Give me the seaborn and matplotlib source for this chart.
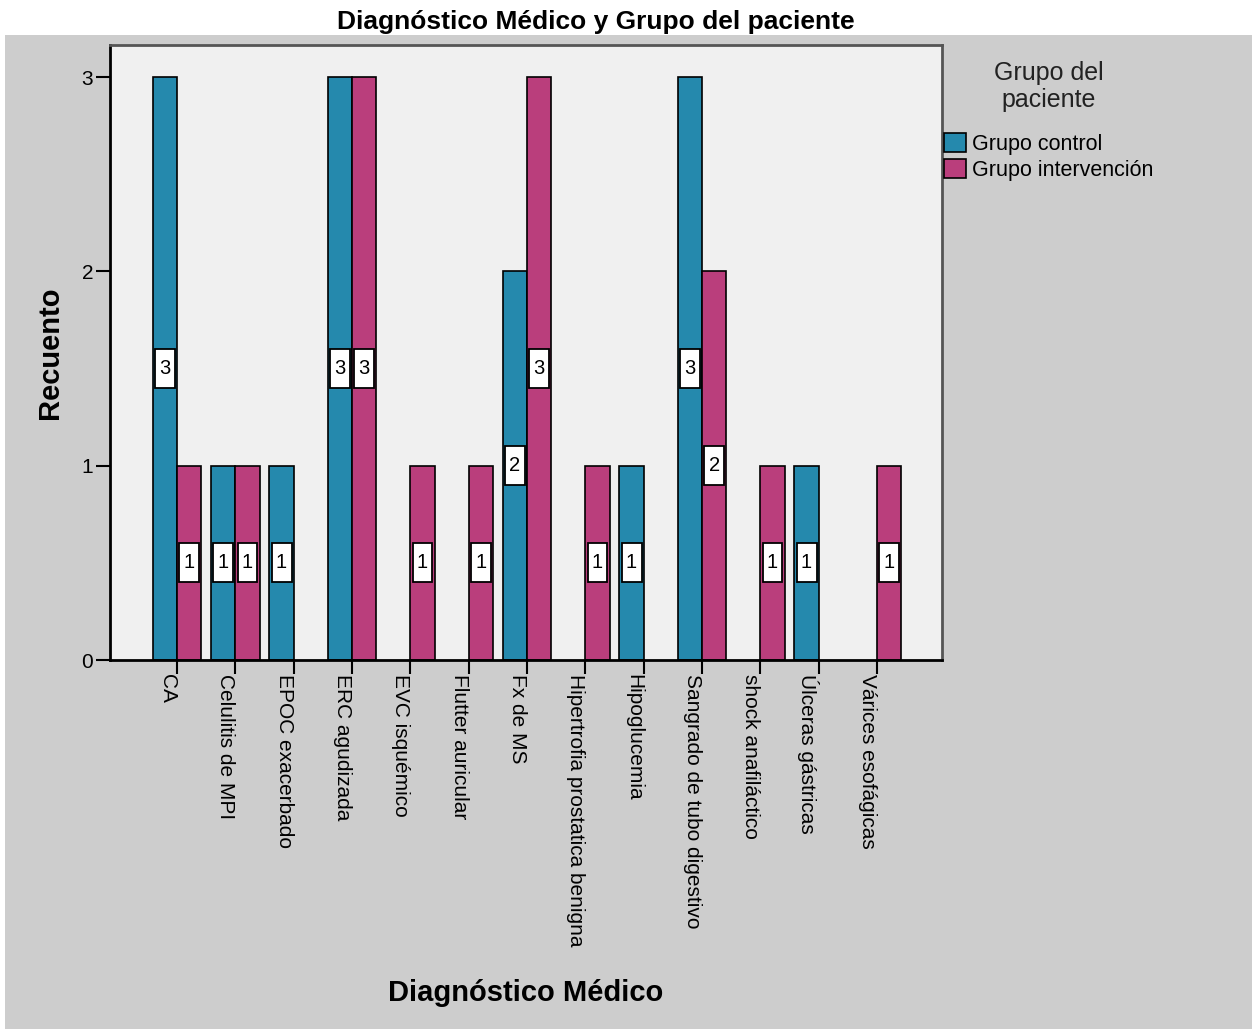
import matplotlib
matplotlib.use("Agg")
import matplotlib.pyplot as plt
import seaborn as sns
import pandas as pd
from matplotlib.patches import Rectangle
from matplotlib.path import Path

# ---- data ----
diagnosticos = ["CA", "Celulitis de MPI", "EPOC exacerbado", "ERC agudizada",
                "EVC isquémico", "Flutter auricular", "Fx de MS",
                "Hipertrofia prostatica benigna", "Hipoglucemia",
                "Sangrado de tubo digestivo", "shock anafiláctico",
                "Úlceras gástricas", "Várices esofágicas"]
grupos = ["Grupo control", "Grupo intervención"]
recuento_control = [3, 1, 1, 3, 0, 0, 2, 0, 1, 3, 0, 1, 0]
recuento_intervencion = [1, 1, 0, 3, 1, 1, 3, 1, 0, 2, 1, 0, 1]
y_ticks = [0, 1, 2, 3]
colores = ["#2589ad", "#ba3e7c"]

rows = []
for d, c, i in zip(diagnosticos, recuento_control, recuento_intervencion):
    if c > 0:
        rows.append({"Diagnóstico": d, "Grupo": grupos[0], "Recuento": c})
    if i > 0:
        rows.append({"Diagnóstico": d, "Grupo": grupos[1], "Recuento": i})
df = pd.DataFrame(rows)

sns.set_style("white")
plt.rcParams["font.family"] = ["Liberation Sans", "DejaVu Sans"]
plt.rcParams["text.color"] = "black"
plt.rcParams["axes.labelcolor"] = "black"
plt.rcParams["xtick.color"] = "black"
plt.rcParams["ytick.color"] = "black"

W, H = 1252, 1029
fig = plt.figure(figsize=(W / 100, H / 100), dpi=100)
fig.patch.set_facecolor("white")
fig.add_artist(Rectangle((5 / W, 0), 1 - 5 / W, 1 - 35 / H, transform=fig.transFigure,
                         facecolor="#cdcdcd", edgecolor="none", zorder=-5))

ax = fig.add_axes([110 / W, 1 - 660 / H, 832 / W, 615 / H])
ax.set_facecolor("#f0f0f0")

sns.barplot(data=df, x="Diagnóstico", y="Recuento", hue="Grupo",
            order=diagnosticos, hue_order=grupos, palette=colores,
            width=0.833, edgecolor="black", linewidth=1.2, saturation=1,
            errorbar=None, ax=ax)


def tall_box(x0, y0, width, height, mutation_size):
    px = 0.22 * mutation_size
    py = 0.5 * mutation_size
    x1, y1 = x0 + width + px, y0 + height + py
    x0, y0 = x0 - px, y0 - py
    return Path([(x0, y0), (x1, y0), (x1, y1), (x0, y1), (x0, y0)], closed=True)


for cont in ax.containers:
    ax.bar_label(cont, fmt="%d", label_type="center", fontsize=14.5, color="black",
                 bbox=dict(boxstyle=tall_box, facecolor="white",
                           edgecolor="black", linewidth=1.3))

ax.set_xlim(-1.149, 13.114)
ax.set_ylim(0, 3.165)
ax.set_yticks(y_ticks)
ax.set_yticklabels([str(t) for t in y_ticks], fontsize=15)
ax.set_xticks(range(len(diagnosticos)))
ax.set_xticklabels(diagnosticos, rotation=-90, ha="right", va="top", fontsize=15)
ax.tick_params(axis="both", direction="out", length=10, width=1.5, color="black",
               labelcolor="black", pad=2, bottom=True, left=True)
ax.tick_params(axis="x", pad=0)

for s in ["left", "bottom"]:
    ax.spines[s].set_color("black")
    ax.spines[s].set_linewidth(2)
for s in ["top", "right"]:
    ax.spines[s].set_color("#555555")
    ax.spines[s].set_linewidth(2)

ax.set_xlabel("Diagnóstico Médico", fontsize=21, fontweight="bold", va="center",
              color="black")
ax.xaxis.set_label_coords(0.5, (660 - 993) / 615)
ax.set_ylabel("Recuento", fontsize=21, fontweight="bold", va="center", color="black")
ax.yaxis.set_label_coords((50 - 110) / 832, 0.5)

sns.move_legend(ax, loc="upper left", bbox_to_anchor=(944 / W, 1 - 61 / H),
                bbox_transform=fig.transFigure, title="Grupo del\npaciente",
                frameon=False, fontsize=15.5, title_fontsize=18,
                handlelength=1.0, handleheight=1.0, handletextpad=0.3,
                labelspacing=0.2, borderaxespad=0, borderpad=0,
                alignment="center", labelcolor="black")
leg = ax.get_legend()
leg.get_title().set_multialignment("center")
leg.get_title().set_linespacing(1.15)
leg.get_title().set_color("#222222")
leg._legend_box.sep = 15

fig.text(596 / W, 1 - 22 / H, "Diagnóstico Médico y Grupo del paciente",
         ha="center", va="center", fontsize=19, fontweight="bold", color="black")

fig.savefig("out.png", dpi=100)
